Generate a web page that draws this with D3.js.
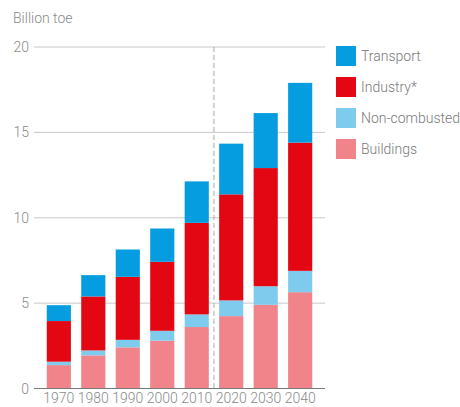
<!DOCTYPE html>
<html>
<head>
<meta charset="utf-8">
<script src="https://cdn.jsdelivr.net/npm/d3@7"></script>
<style>
  html, body { margin: 0; padding: 0; background: #fff; }
  svg { display: block; font-family: Roboto, "Liberation Sans", sans-serif; font-weight: 300; }
</style>
</head>
<body>
<svg id="chart" width="460" height="407"></svg>
<script>
// Energy consumption by sector, billion tonnes of oil equivalent
const years = ["1970", "1980", "1990", "2000", "2010", "2020", "2030", "2040"];
const buildings     = [1.37, 1.94, 2.41, 2.80, 3.60, 4.24, 4.90, 5.64];
const nonCombusted  = [0.20, 0.29, 0.44, 0.58, 0.74, 0.92, 1.09, 1.25];
const industry      = [2.38, 3.16, 3.69, 4.04, 5.36, 6.21, 6.92, 7.51];
const transport     = [0.93, 1.25, 1.60, 1.95, 2.43, 2.97, 3.22, 3.50];
const yTicks = [0, 5, 10, 15, 20];

const seriesKeys   = ["Buildings", "Non-combusted", "Industry*", "Transport"];
const seriesValues = [buildings, nonCombusted, industry, transport];
const colors = {
  "Transport": "#069de0",
  "Industry*": "#e30613",
  "Non-combusted": "#7ecbee",
  "Buildings": "#f1838b"
};

const rows = years.map((yr, i) => {
  const r = { year: yr };
  seriesKeys.forEach((k, j) => { r[k] = seriesValues[j][i]; });
  return r;
});

const svg = d3.select("#chart");
const plotLeft = 34, plotRight = 325, plotTop = 47, plotBottom = 388.5;

const x = d3.scaleBand().domain(years).range([plotLeft, plotRight])
  .paddingInner(0.3).paddingOuter(0.37);
const y = d3.scaleLinear().domain([0, 20]).range([plotBottom, plotTop]);

// gridlines
svg.append("g").selectAll("line").data(yTicks.filter(d => d > 0)).join("line")
  .attr("x1", plotLeft).attr("x2", plotRight)
  .attr("y1", d => y(d)).attr("y2", d => y(d))
  .attr("stroke", "#c8c8c8").attr("stroke-width", 1);

// y tick labels
svg.append("g").selectAll("text").data(yTicks).join("text")
  .attr("x", 29).attr("y", d => y(d)).attr("dy", "0.36em")
  .attr("text-anchor", "end").attr("font-size", 14).attr("fill", "#8a8a8a")
  .text(d => d);

// stacked bars
const stack = d3.stack().keys(seriesKeys)(rows);
svg.append("g").selectAll("g").data(stack).join("g")
  .attr("fill", d => colors[d.key])
  .selectAll("rect").data(d => d).join("rect")
  .attr("x", d => x(d.data.year))
  .attr("width", x.bandwidth())
  .attr("y", d => y(d[1]))
  .attr("height", d => y(d[0]) - y(d[1]));

// divider between historical and projected values
const divX = (x("2010") + x.bandwidth() + x("2020")) / 2;
svg.append("line")
  .attr("x1", divX).attr("x2", divX)
  .attr("y1", y(20)).attr("y2", plotBottom)
  .attr("stroke", "#a8a8a8").attr("stroke-width", 1)
  .attr("stroke-dasharray", "5,3");

// baseline axis
svg.append("line")
  .attr("x1", plotLeft).attr("x2", plotRight)
  .attr("y1", plotBottom).attr("y2", plotBottom)
  .attr("stroke", "#7a7a7a").attr("stroke-width", 1.2);

// x labels
svg.append("g").selectAll("text").data(years).join("text")
  .attr("x", d => x(d) + x.bandwidth() / 2)
  .attr("y", 403)
  .attr("text-anchor", "middle").attr("font-size", 14).attr("fill", "#8a8a8a")
  .text(d => d);

// unit label
svg.append("text").attr("x", 13).attr("y", 23)
  .attr("font-size", 14).attr("fill", "#8a8a8a").text("Billion toe");

// legend
const legendKeys = ["Transport", "Industry*", "Non-combusted", "Buildings"];
const lg = svg.append("g").selectAll("g").data(legendKeys).join("g")
  .attr("transform", (d, i) => `translate(336, ${46 + i * 31})`);
lg.append("rect").attr("width", 20).attr("height", 20).attr("fill", d => colors[d]);
lg.append("text").attr("x", 25).attr("y", 10).attr("dy", "0.36em")
  .attr("font-size", 14).attr("fill", "#7a7a7a").text(d => d);
</script>
</body>
</html>
